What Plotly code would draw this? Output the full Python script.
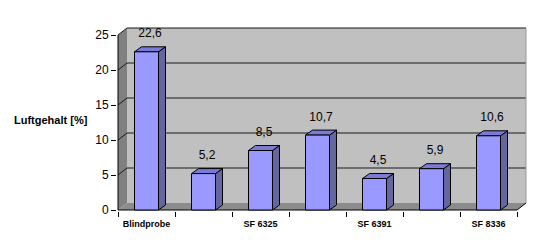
import plotly.graph_objects as go

# ---- data ----
categories = ["Blindprobe", "", "SF 6325", "", "SF 6391", "", "SF 8336"]
values = [22.6, 5.2, 8.5, 10.7, 4.5, 5.9, 10.6]
value_labels = ["22,6", "5,2", "8,5", "10,7", "4,5", "5,9", "10,6"]
y_ticks = [0, 5, 10, 15, 20, 25]
y_title = "Luftgehalt [%]"

# ---- geometry (pixel based conversions) ----
PX = 57.0   # px per category
PY = 7.0    # px per y unit
n = len(categories)
x0, x1 = -0.5, n - 0.5
ymax = 25
wdx, wdy = 9 / PX, 7 / PY      # wall depth offset
bw = 24 / PX                   # bar width
bdx, bdy = 7 / PX, 5 / PY      # bar depth offset

FONT = "Arial, Liberation Sans, sans-serif"
FRONT, SIDE, TOP = "#9999FF", "#66669E", "#7B7BD6"

fig = go.Figure()


def poly(xs, ys, fill, lc="black", lw=1):
    fig.add_trace(go.Scatter(
        x=xs + [xs[0]], y=ys + [ys[0]], mode="lines", fill="toself",
        fillcolor=fill, line=dict(color=lc, width=lw),
        hoverinfo="skip", showlegend=False))


def line(xs, ys, color="black", width=1):
    fig.add_trace(go.Scatter(
        x=xs, y=ys, mode="lines", line=dict(color=color, width=width),
        hoverinfo="skip", showlegend=False))


# walls
poly([x0, x0, x0 + wdx, x0 + wdx], [0, ymax, ymax + wdy, wdy], "#808080", lw=0)
poly([x0, x1, x1 + wdx, x0 + wdx], [0, 0, wdy, wdy], "#8C8C8C", lw=0)
poly([x0 + wdx, x1 + wdx, x1 + wdx, x0 + wdx],
     [wdy, wdy, ymax + wdy, ymax + wdy], "#C0C0C0", lw=0)

# gridlines
gx, gy = [], []
for v in y_ticks[1:]:
    gx += [x0, x0 + wdx, x1 + wdx, None]
    gy += [v, v + wdy, v + wdy, None]
line(gx, gy, "#1a1a1a")
line([x1 + wdx, x1 + wdx], [wdy, ymax + wdy], "#9A9A9A")

# front edges
line([x0, x0], [0, ymax])
line([x0, x1, x1 + wdx], [0, 0, wdy])

# bars
for i, v in enumerate(values):
    l, r = i - bw / 2, i + bw / 2
    poly([r, r + bdx, r + bdx, r], [0, bdy, v + bdy, v], SIDE)
    poly([l, r, r + bdx, l + bdx], [v, v, v + bdy, v + bdy], TOP)
    poly([l, r, r, l], [0, 0, v, v], FRONT)

# value labels
fig.add_trace(go.Scatter(
    x=[i + bdx / 2 for i in range(n)],
    y=[v + bdy + 12.5 / PY for v in values],
    mode="text", text=value_labels, textposition="middle center",
    textfont=dict(family=FONT, size=12, color="black"),
    hoverinfo="skip", showlegend=False, cliponaxis=False))

fig.update_layout(
    width=540, height=252,
    margin=dict(l=117, r=13, t=27, b=41),
    paper_bgcolor="white", plot_bgcolor="white",
    showlegend=False,
    xaxis=dict(
        range=[x0 - 1 / PX, x0 - 1 / PX + 410 / PX],
        tickmode="array", tickvals=list(range(n)), ticktext=categories,
        ticks="", showgrid=False, zeroline=False, showline=False,
        ticklabelstandoff=6,
        tickfont=dict(family=FONT, size=9, color="black", weight="bold"),
        minor=dict(tickmode="array", tickvals=[x0 + k for k in range(n + 1)],
                   ticks="outside", ticklen=5, tickcolor="black", showgrid=False),
        fixedrange=True),
    yaxis=dict(
        range=[-1 / PY, ymax + wdy + 1 / PY],
        tickmode="array", tickvals=y_ticks,
        ticks="outside", ticklen=5, tickcolor="black",
        showgrid=False, zeroline=False, showline=False,
        tickfont=dict(family=FONT, size=12, color="black"),
        fixedrange=True),
    annotations=[dict(
        text=y_title, xref="paper", yref="paper",
        x=(51 - 117) / 410, y=(211 - 120) / 184,
        xanchor="center", yanchor="middle", showarrow=False,
        font=dict(family=FONT, size=11, color="black", weight="bold"))],
)

fig.write_html("out.html")
